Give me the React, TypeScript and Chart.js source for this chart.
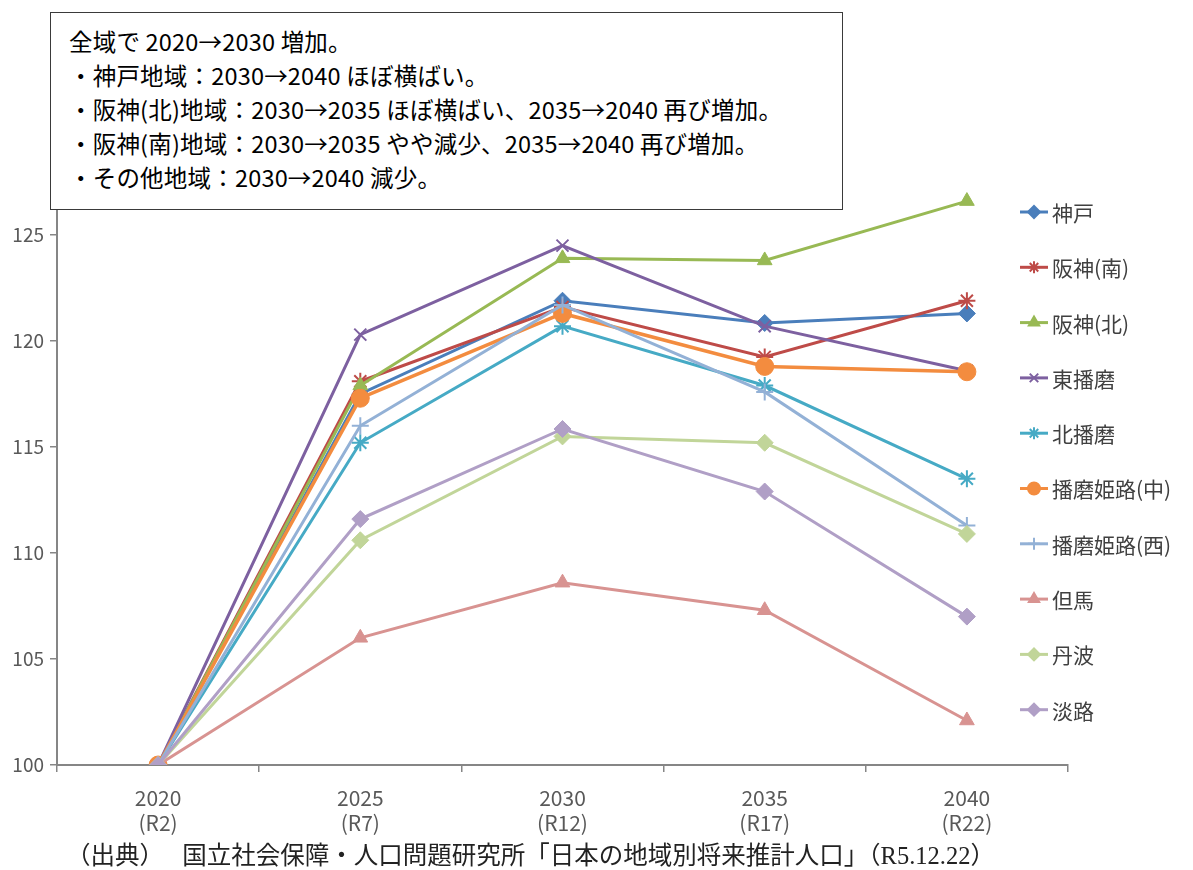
import React, { useEffect, useRef } from 'react';
import { Chart, registerables } from 'chart.js';
import { drawPoint } from 'chart.js/helpers';

Chart.register(...registerables);

const years = ['2020', '2025', '2030', '2035', '2040'];
const eras = ['(R2)', '(R7)', '(R12)', '(R17)', '(R22)'];

const seriesNames = ['神戸', '阪神(南)', '阪神(北)', '東播磨', '北播磨', '播磨姫路(中)', '播磨姫路(西)', '但馬', '丹波', '淡路'];

const kobe = [100, 117.5, 121.9, 120.85, 121.3];
const hanshinSouth = [100, 118.1, 121.6, 119.25, 121.9];
const hanshinNorth = [100, 117.9, 123.9, 123.8, 126.6];
const higashiHarima = [100, 120.3, 124.5, 120.7, 118.6];
const kitaHarima = [100, 115.2, 120.7, 117.9, 113.5];
const himejiCenter = [100, 117.3, 121.3, 118.8, 118.55];
const himejiWest = [100, 116.0, 121.7, 117.6, 111.3];
const tajima = [100, 106.0, 108.6, 107.3, 102.1];
const tamba = [100, 110.6, 115.5, 115.2, 110.9];
const awaji = [100, 111.6, 115.85, 112.9, 107.0];

const seriesValues = [kobe, hanshinSouth, hanshinNorth, higashiHarima, kitaHarima, himejiCenter, himejiWest, tajima, tamba, awaji];
const seriesColors = ['#4A7EBB', '#BE4B48', '#98B954', '#7D60A0', '#46AAC5', '#F38C3F', '#93B1D6', '#D89391', '#C1D599', '#B09FC6'];
const seriesMarkers = ['rectRot', 'star', 'triangle', 'crossRot', 'star', 'circle', 'cross', 'triangle', 'rectRot', 'rectRot'];

const yTicksShown = [100, 105, 110, 115, 120, 125];

const noteLines = [
  '全域で 2020→2030 増加。',
  '・神戸地域：2030→2040 ほぼ横ばい。',
  '・阪神(北)地域：2030→2035 ほぼ横ばい、2035→2040 再び増加。',
  '・阪神(南)地域：2030→2035 やや減少、2035→2040 再び増加。',
  '・その他地域：2030→2040 減少。',
];
const sourceText = '（出典）　 国立社会保障・人口問題研究所「日本の地域別将来推計人口」（R5.12.22）';

const axisFont = "'Noto Sans CJK JP', 'Noto Sans', sans-serif";
const cjkFont = "'Noto Sans CJK JP', 'Noto Sans', sans-serif";

const sideLegend = {
  id: 'sideLegend',
  afterDraw(chart: any) {
    const ctx = chart.ctx;
    const area = chart.chartArea;
    const x0 = area.right - 48;
    chart.data.datasets.forEach((ds: any, i: number) => {
      const y = 212 + i * 55.3;
      ctx.save();
      ctx.strokeStyle = ds.borderColor;
      ctx.fillStyle = ds.borderColor;
      ctx.lineWidth = 3;
      ctx.beginPath();
      ctx.moveTo(x0, y);
      ctx.lineTo(x0 + 28, y);
      ctx.stroke();
      ctx.lineWidth = 2;
      drawPoint(ctx, { pointStyle: ds.pointStyle, rotation: 0, radius: 6, borderWidth: 2 } as any, x0 + 14, y);
      ctx.fillStyle = '#404040';
      ctx.font = `21px ${cjkFont}`;
      ctx.textBaseline = 'middle';
      ctx.textAlign = 'left';
      ctx.fillText(ds.label, x0 + 32, y + 1);
      ctx.restore();
    });
  },
};

export default function App() {
  const canvasRef = useRef<HTMLCanvasElement | null>(null);

  useEffect(() => {
    if (!canvasRef.current) return;
    const n = seriesNames.length;
    const chart = new Chart(canvasRef.current, {
      type: 'line',
      data: {
        labels: years.map((y, i) => [y, eras[i]]),
        datasets: seriesNames.map((name, i) => ({
          label: name,
          data: seriesValues[i],
          borderColor: seriesColors[i],
          backgroundColor: seriesColors[i],
          pointBackgroundColor: seriesColors[i],
          pointBorderColor: seriesColors[i],
          pointStyle: seriesMarkers[i] as any,
          pointRadius: seriesMarkers[i] === 'circle' ? 9 : 8.5,
          pointBorderWidth: ['star', 'cross', 'crossRot'].includes(seriesMarkers[i]) ? 2 : 1,
          borderWidth: seriesMarkers[i] === 'circle' ? 3.5 : 3,
          tension: 0,
          fill: false,
          order: n - i,
        })),
      },
      options: {
        animation: false,
        responsive: false,
        maintainAspectRatio: false,
        devicePixelRatio: 1,
        layout: { padding: { left: 0, right: 125, top: 129, bottom: 0 } },
        plugins: {
          legend: { display: false },
          tooltip: { enabled: false },
          title: { display: false },
        },
        scales: {
          x: {
            type: 'category',
            offset: true,
            grid: {
              offset: true,
              drawOnChartArea: false,
              drawTicks: true,
              tickLength: 7,
              color: '#868686',
              lineWidth: 1.5,
            },
            border: { display: true, color: '#868686', width: 2 },
            ticks: {
              color: '#595959',
              font: { family: axisFont, size: 21, lineHeight: 1.2 },
              padding: 13,
              maxRotation: 0,
              autoSkip: false,
            },
            afterFit(scale: any) {
              scale.height = 105;
            },
          },
          y: {
            type: 'linear',
            min: 100,
            max: 130,
            ticks: {
              stepSize: 5,
              color: '#595959',
              font: { family: axisFont, size: 19 },
              padding: 6,
              callback: (v: any) => (yTicksShown.includes(Number(v)) ? String(v) : ''),
            },
            grid: {
              drawOnChartArea: false,
              drawTicks: true,
              tickLength: 7,
              color: '#868686',
              lineWidth: 1.5,
            },
            border: { display: true, color: '#868686', width: 2 },
            afterFit(scale: any) {
              scale.width = 57;
            },
          },
        },
      },
      plugins: [sideLegend],
    });
    return () => chart.destroy();
  }, []);

  return (
    <div style={{ position: 'fixed', left: 0, top: 0, width: 1193, height: 870, background: '#fff', overflow: 'hidden' }}>
      <canvas ref={canvasRef} width={1193} height={870} style={{ position: 'absolute', left: 0, top: 0, width: 1193, height: 870 }} />
      <div
        style={{
          position: 'absolute',
          left: 50,
          top: 12,
          width: 793,
          height: 198,
          boxSizing: 'border-box',
          border: '1.5px solid #3a3a3a',
          background: '#fff',
          padding: '11px 0 0 18px',
          fontFamily: cjkFont,
          fontSize: 23.5,
          lineHeight: '34px',
          color: '#000',
          whiteSpace: 'nowrap',
          letterSpacing: '0.2px',
        }}
      >
        {noteLines.map((t, i) => (
          <div key={i}>{t}</div>
        ))}
      </div>
      <div
        style={{
          position: 'absolute',
          left: 66,
          top: 840,
          fontFamily: "'Liberation Serif', 'Noto Sans CJK JP', serif",
          fontSize: 24.5,
          lineHeight: '32px',
          color: '#222',
          whiteSpace: 'nowrap',
        }}
      >
        {sourceText}
      </div>
    </div>
  );
}
